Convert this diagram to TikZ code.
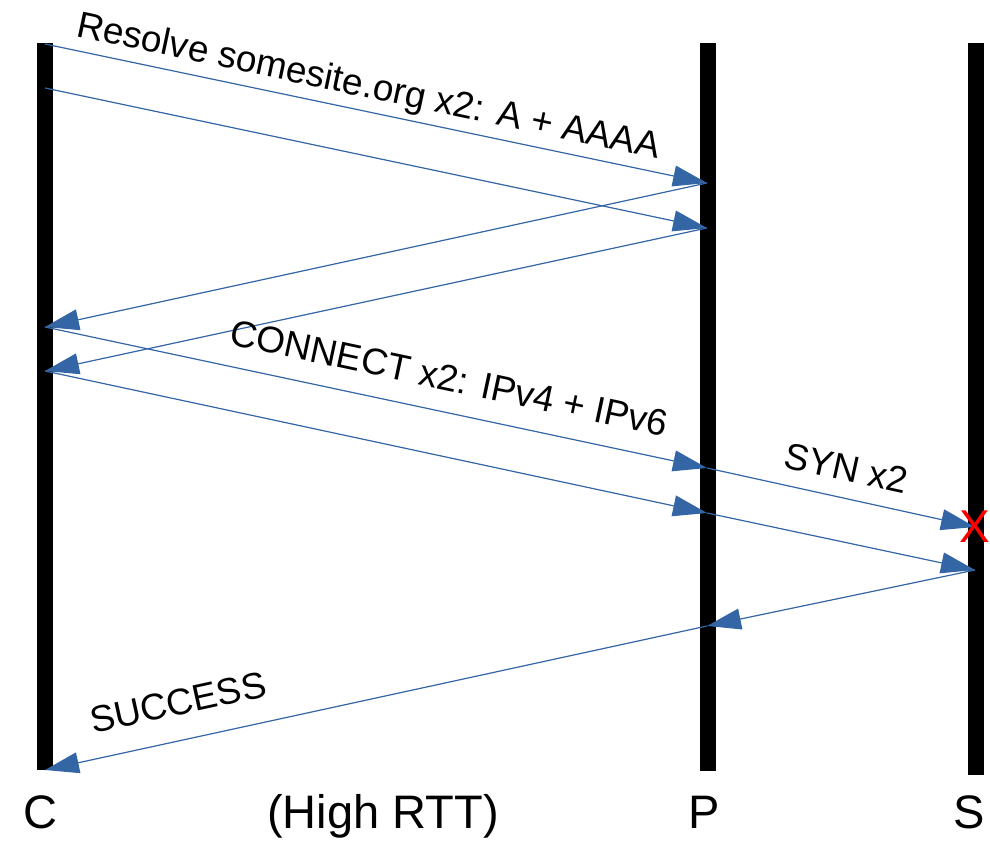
\documentclass[tikz,border=0pt]{standalone}
\usepackage{fontspec}
\setmainfont{Liberation Sans}
\usetikzlibrary{arrows.meta}
\definecolor{msgblue}{HTML}{3465A4}
\tikzset{
  lifeline/.style={line width=8pt},
  msg/.style={draw=msgblue, line width=0.6pt, -{Triangle[length=17pt,width=10.5pt]}},
  mlbl/.style={font=\fontsize{18.5}{22}\selectfont, inner sep=0pt, anchor=base west},
  plbl/.style={font=\fontsize{23.5}{28}\selectfont, inner sep=0pt, anchor=base},
  }

\begin{document}
\begin{tikzpicture}[x=0.5pt,y=-0.5pt]
  \useasboundingbox (0,0) rectangle (990,844);

  % lifelines
  \coordinate (Ctop) at (45,43);   \coordinate (Cbot) at (45,770);
  \coordinate (Ptop) at (708,43);  \coordinate (Pbot) at (708,771);
  \coordinate (Stop) at (976,43);  \coordinate (Sbot) at (976,775);
  \draw[lifeline] (Ctop) -- (Cbot);
  \draw[lifeline] (Ptop) -- (Pbot);
  \draw[lifeline] (Stop) -- (Sbot);

  % message end points
  \coordinate (c1) at (45,44);   \coordinate (c2) at (45,88);
  \coordinate (c3) at (45,327);  \coordinate (c4) at (45,371);
  \coordinate (c5) at (45,770);
  \coordinate (p1) at (707,183); \coordinate (p2) at (707,228);
  \coordinate (p3) at (707,468); \coordinate (p4) at (707,513);
  \coordinate (p5) at (707,626);
  \coordinate (s1) at (975,527); \coordinate (s2) at (975,570);

  % messages
  \draw[msg] (c1) -- (p1);
  \draw[msg] (c2) -- (p2);
  \draw[msg] (p1) -- (c3);
  \draw[msg] (p2) -- (c4);
  \draw[msg] (c3) -- (p3);
  \draw[msg] (c4) -- (p4);
  \draw[msg] (p3) -- (s1);
  \draw[msg] (p4) -- (s2);
  \draw[msg] (s2) -- (p5);
  \draw[msg] (p5) -- (c5);

  % message labels
  \node[mlbl,rotate=-11.9] (lres) at (75,36)   {Resolve somesite.org x2: A + AAAA};
  \node[mlbl,rotate=-12.0] (lcon) at (228,344) {CONNECT x2: IPv4 + IPv6};
  \node[mlbl,rotate=-12.4] (lsyn) at (782,467) {SYN x2};
  \node[mlbl,rotate=12.3]  (lsuc) at (93,734)  {SUCCESS};

  % dropped SYN
  \node[font=\fontsize{23}{28}\selectfont, text=red, inner sep=0pt] (drop) at (s1) {X};

  % party labels
  \node[plbl] (nC)   at (40,828)  {C};
  \node[plbl] (nrtt) at (383,828) {(High RTT)};
  \node[plbl] (nP)   at (704,828) {P};
  \node[plbl] (nS)   at (969,828) {S};
\end{tikzpicture}
\end{document}
